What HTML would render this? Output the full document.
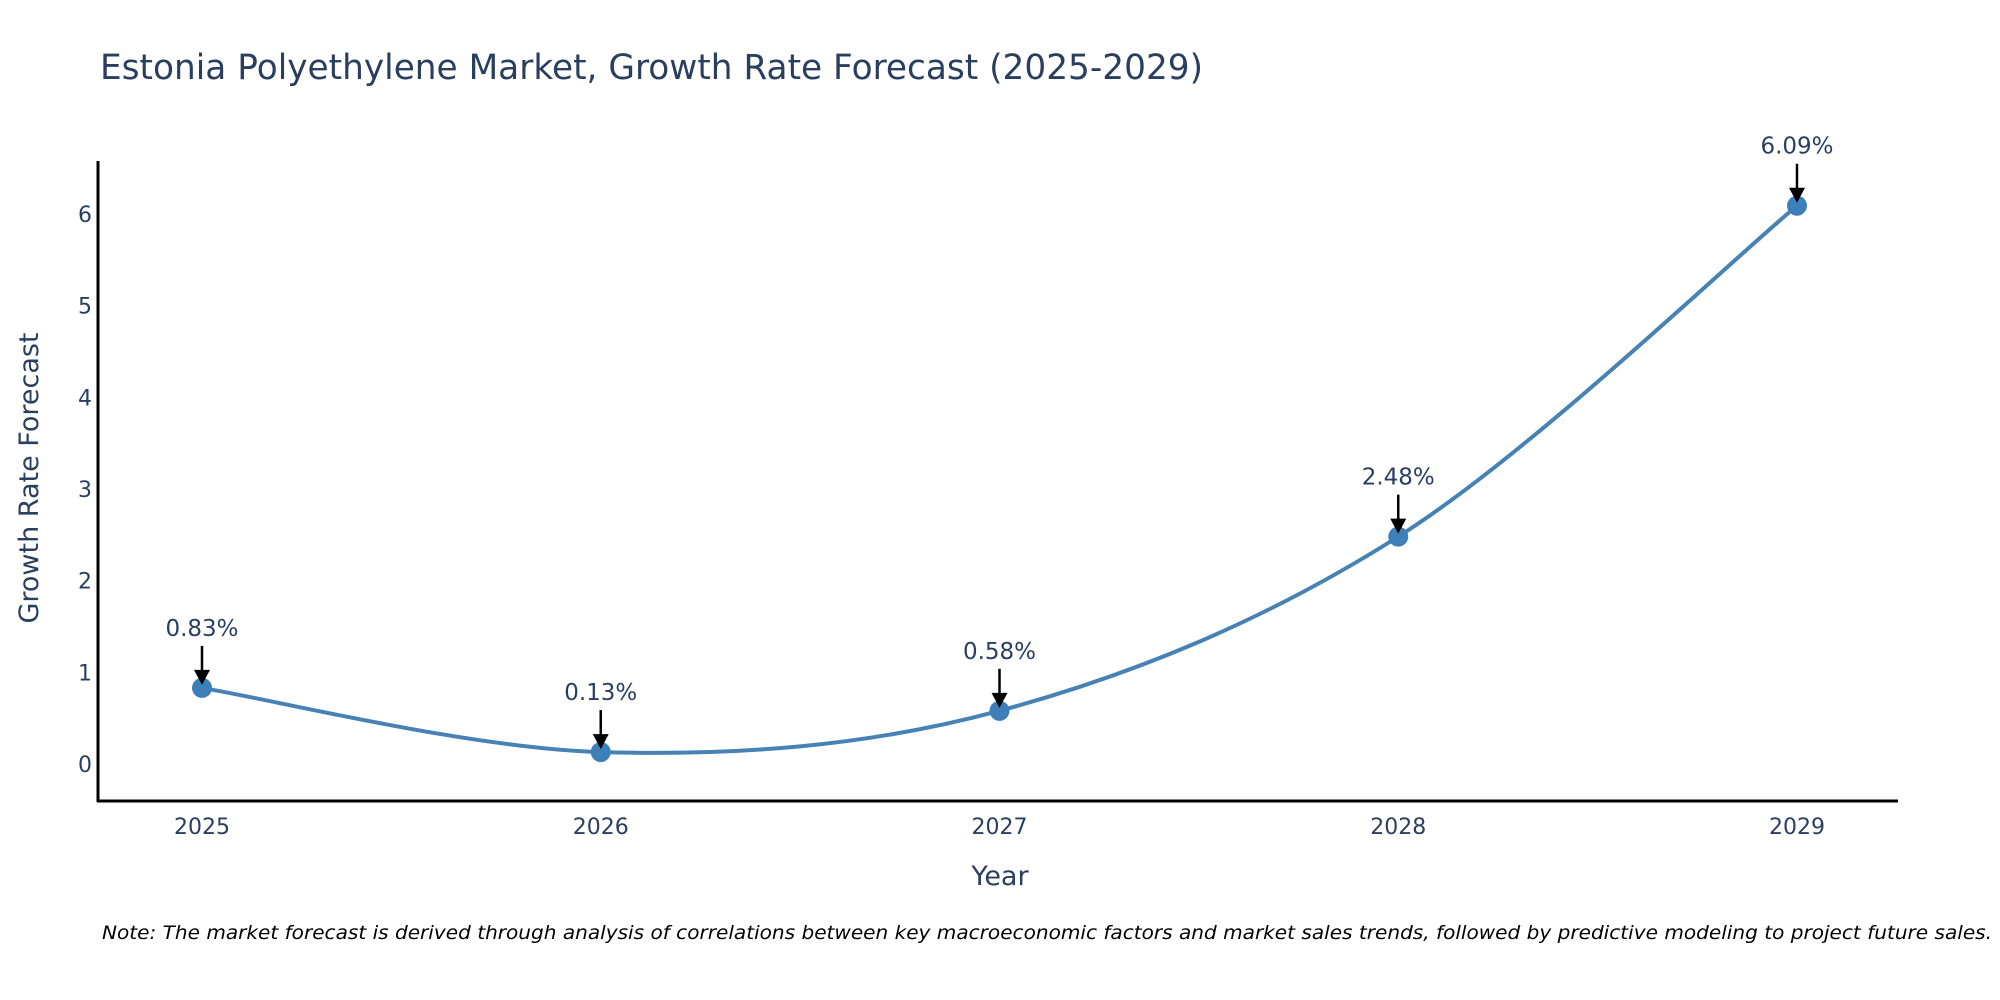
<!DOCTYPE html>
<html><head><meta charset="utf-8"><style>
body{margin:0;background:#fff;}
svg{display:block;font-family:"DejaVu Sans","Liberation Sans",sans-serif;}
</style></head><body>
<svg id="chart" width="2000" height="1000">
<text x="100" y="79" font-size="35" fill="#2a3f5f" textLength="1103" lengthAdjust="spacingAndGlyphs">Estonia Polyethylene Market, Growth Rate Forecast (2025-2029)</text>
<g id="yticks"></g><g id="xticks"></g>
<line x1="98" y1="161" x2="98" y2="802" stroke="#000" stroke-width="3"/>
<line x1="97" y1="801" x2="1898" y2="801" stroke="#000" stroke-width="3"/>
<path id="line" fill="none" stroke="#4682b4" stroke-width="4"/>
<g id="marks"></g>
<text x="1000" y="885" font-size="27" fill="#2a3f5f" text-anchor="middle">Year</text>
<text transform="translate(38,478) rotate(-90)" font-size="27" fill="#2a3f5f" text-anchor="middle">Growth Rate Forecast</text>
<text x="102" y="939" font-size="19" font-style="italic" fill="#000" textLength="1890" lengthAdjust="spacingAndGlyphs">Note: The market forecast is derived through analysis of correlations between key macroeconomic factors and market sales trends, followed by predictive modeling to project future sales.</text>
</svg>
<script>
const years = [2025, 2026, 2027, 2028, 2029];
const values = [0.83, 0.13, 0.58, 2.48, 6.09];
const labels = ["0.83%", "0.13%", "0.58%", "2.48%", "6.09%"];
const yTicks = [0, 1, 2, 3, 4, 5, 6];

const NS = "http://www.w3.org/2000/svg";
function xs(v){ return 202 + (v - 2025) * 398.75; }
function ys(v){ return 764 - v * 91.67; }
function mk(tag, attrs, parent){ const e=document.createElementNS(NS,tag); for(const k in attrs) e.setAttribute(k,attrs[k]); parent.appendChild(e); return e; }

const yg=document.getElementById('yticks');
yTicks.forEach(t=>{
  const e=mk('text',{x:92,y:ys(t)+8,'font-size':22,fill:'#2a3f5f','text-anchor':'end'},yg);
  
  
  e.textContent=t;
});
const xg=document.getElementById('xticks');
years.forEach(y=>{
  const e=mk('text',{x:xs(y),y:834,'font-size':22,fill:'#2a3f5f','text-anchor':'middle'},xg);
  
  
  e.textContent=y;
});

const pts=years.map((y,i)=>[xs(y),ys(values[i])]);
let d='M'+pts[0][0]+','+pts[0][1];
for(let i=0;i<pts.length-1;i++){
  const p0=pts[Math.max(0,i-1)],p1=pts[i],p2=pts[i+1],p3=pts[Math.min(pts.length-1,i+2)];
  const c1=[p1[0]+(p2[0]-p0[0])/6,p1[1]+(p2[1]-p0[1])/6];
  const c2=[p2[0]-(p3[0]-p1[0])/6,p2[1]-(p3[1]-p1[1])/6];
  d+=' C'+c1+' '+c2+' '+p2;
}
document.getElementById('line').setAttribute('d',d);

const mg=document.getElementById('marks');
pts.forEach((p,i)=>{
  const c=mk('circle',{cx:p[0],cy:p[1],r:10,fill:'#3d7fb8'},mg);
  
  
  const a=mk('line',{x1:p[0],y1:p[1]-42,x2:p[0],y2:p[1]-16,stroke:'#000','stroke-width':2.5},mg);
  
  
  const h=mk('polygon',{points:(p[0]-8)+','+(p[1]-18)+' '+(p[0]+8)+','+(p[1]-18)+' '+p[0]+','+(p[1]-3),fill:'#000'},mg);
  
  
  const t=mk('text',{x:p[0],y:p[1]-52,'font-size':23,fill:'#2a3f5f','text-anchor':'middle'},mg);
  
  
  t.textContent=labels[i];
});
</script>
</body></html>
